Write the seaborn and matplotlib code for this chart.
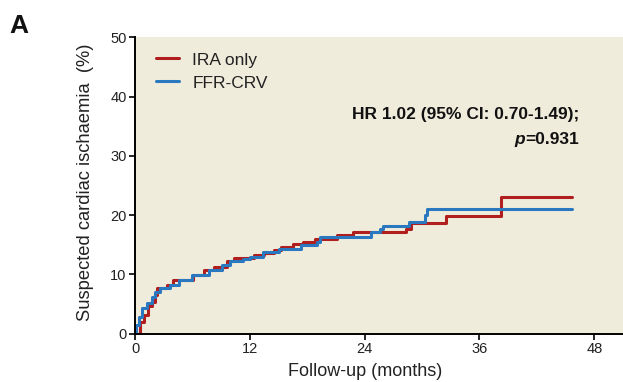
import matplotlib
matplotlib.use("Agg")
import matplotlib.pyplot as plt
import seaborn as sns
import pandas as pd

# ---- data ----
ira_t = [0, 0.5, 0.9, 1.4, 1.8, 2.1, 2.3, 3.3, 4.0, 6.1, 7.2, 8.3, 9.6, 10.3, 12.4, 13.5,
         14.5, 15.3, 16.5, 17.6, 18.8, 21.1, 22.8, 28.3, 28.8, 32.5, 38.3, 45.7]
ira_y = [0, 2.0, 3.2, 4.6, 5.4, 6.5, 7.7, 8.2, 9.1, 9.9, 10.8, 11.3, 12.2, 12.7, 13.3, 13.6,
         14.1, 14.6, 15.1, 15.5, 16.0, 16.7, 17.1, 17.6, 18.6, 19.8, 23.1, 23.1]
ffr_t = [0, 0.06, 0.38, 0.73, 1.25, 1.8, 2.1, 2.6, 3.7, 4.55, 5.95, 7.7, 9.1, 9.95, 11.3, 12.0,
         13.4, 15.0, 17.4, 19.0, 19.3, 24.7, 25.6, 25.95, 28.6, 30.3, 30.5, 45.7]
ffr_y = [0, 1.5, 2.9, 4.3, 5.1, 6.25, 7.1, 7.7, 8.2, 9.1, 9.9, 10.8, 11.6, 12.2, 12.6, 13.0,
         13.7, 14.3, 14.9, 15.5, 16.3, 17.1, 17.6, 18.2, 18.9, 20.0, 21.0, 21.0]
groups = ["IRA only", "FFR-CRV"]
x_ticks = [0, 12, 24, 36, 48]
y_ticks = [0, 10, 20, 30, 40, 50]

df = pd.concat([
    pd.DataFrame({"t": ira_t, "y": ira_y, "group": groups[0]}),
    pd.DataFrame({"t": ffr_t, "y": ffr_y, "group": groups[1]}),
], ignore_index=True)

sns.set_theme(style="ticks")
plt.rcParams["font.family"] = ["Liberation Sans", "DejaVu Sans"]

fig = plt.figure(figsize=(6.23, 3.82), dpi=100)
ax = fig.add_axes([0.2167, 0.1264, 0.7833, 0.776])
ax.set_facecolor("#F0ECDC")

palette = {"IRA only": "#B01E1E", "FFR-CRV": "#2A78C0"}
sns.lineplot(data=df, x="t", y="y", hue="group", palette=palette, drawstyle="steps-post",
             estimator=None, sort=False, linewidth=2.2, ax=ax, legend=True)

ax.set_xlim(0, 51)
ax.set_ylim(0, 50)
ax.set_xticks(x_ticks)
ax.set_yticks(y_ticks)
ax.set_xticklabels([str(v) for v in x_ticks], fontsize=10.5)
ax.set_yticklabels([str(v) for v in y_ticks], fontsize=10.5)
for s in ["top", "right"]:
    ax.spines[s].set_visible(False)
for s in ["left", "bottom"]:
    ax.spines[s].set_linewidth(1.4)
    ax.spines[s].set_color("black")
ax.tick_params(axis="both", direction="out", length=4, width=1.2, color="black", pad=2,
               labelcolor="#222222")

ax.set_xlabel("Follow-up (months)", fontsize=13, color="#222222")
ax.xaxis.set_label_coords(0.471, -0.098)
ax.set_ylabel("Suspected cardiac ischaemia  (%)", fontsize=13.2, color="#222222")
ax.yaxis.set_label_coords(-0.084, 0.51)

leg = ax.legend(loc="upper left", frameon=False, fontsize=12.5, handlelength=1.35,
                handletextpad=0.75, labelspacing=0.45, borderaxespad=0.3,
                bbox_to_anchor=(0.018, 0.99))
for line in leg.get_lines():
    line.set_linewidth(2.2)
for t in leg.get_texts():
    t.set_color("#222222")

fig.text(0.929, 0.699, "HR 1.02 (95% CI: 0.70-1.49);", ha="right", va="center",
         fontsize=12.5, fontweight="bold", color="#111111")
t2 = fig.text(0.929, 0.634, "=0.931", ha="right", va="center",
              fontsize=12.5, fontweight="bold", color="#111111")
fig.canvas.draw()
bb = t2.get_window_extent(renderer=fig.canvas.get_renderer())
x_left = bb.x0 / fig.bbox.width
fig.text(x_left, 0.634, "p", ha="right", va="center", fontsize=12.5, fontweight="bold",
         fontstyle="italic", color="#111111")

fig.text(0.031, 0.932, "A", ha="center", va="center", fontsize=19, fontweight="bold",
         color="#111111")

fig.savefig("out.png", dpi=100)
